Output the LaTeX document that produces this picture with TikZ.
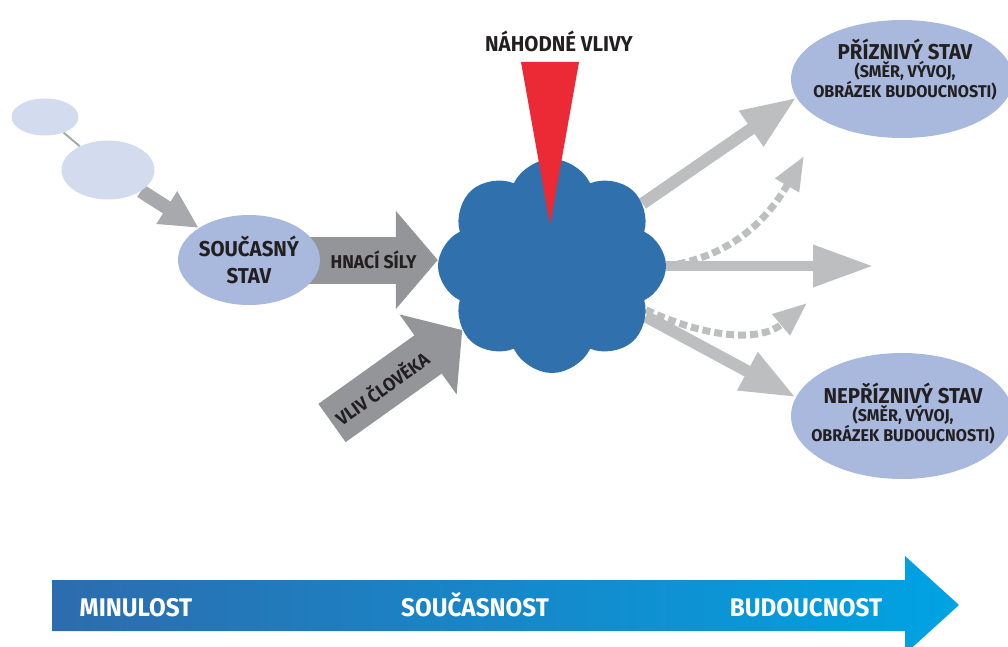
\documentclass[tikz,border=0pt]{standalone}
\usepackage{fontspec}
\setmainfont[FakeStretch=0.95]{Fira Sans}
\usetikzlibrary{shapes.geometric,shapes.symbols,arrows.meta,backgrounds}
\definecolor{pastblue}{HTML}{D3DCEE}
\definecolor{stateblue}{HTML}{A8B9DD}
\definecolor{cloudblue}{HTML}{2F70AD}
\definecolor{drivegray}{HTML}{939598}
\definecolor{linkgray}{HTML}{A7A9AC}
\definecolor{pathgray}{HTML}{BCBEC0}
\definecolor{chancered}{HTML}{EC2A35}
\definecolor{inkdark}{HTML}{231F20}
\definecolor{timeleft}{HTML}{2D6CAE}
\definecolor{timeright}{HTML}{00A3E3}
\newcommand{\bigtext}{\fontsize{21.5}{27}\selectfont}
\newcommand{\subtext}{\fontsize{17}{22}\selectfont}
\newcommand{\forcetext}{\fontsize{18.5}{20}\selectfont}
\tikzset{
  paststate/.style={ellipse,fill=pastblue,inner sep=0pt},
  state/.style={ellipse,fill=stateblue,inner sep=0pt,align=center,text=inkdark},
  statetext/.style={font=\bfseries,text=inkdark,align=center},
  outcome/.style={draw=pathgray,line width=12pt,-{Triangle[length=55pt,width=40pt]}},
  maybe/.style={draw=pathgray,line width=7pt,dash pattern=on 8pt off 4pt,-{Triangle[length=34pt,width=26pt]}},
  force/.style={draw=drivegray,line width=47pt,-{Triangle[length=42pt,width=96pt]}}
}

\begin{document}
\begin{tikzpicture}[x=1pt,y=-1pt,font=\bfseries]
  \useasboundingbox (0,0) rectangle (1008,647);

  \node[paststate,minimum width=67pt,minimum height=37pt] (p1) at (45,117) {};
  \node[paststate,minimum width=93pt,minimum height=59pt] (p2) at (108,170) {};
  \node[state,minimum width=142pt,minimum height=90pt,font=\bfseries\bigtext] (now) at (249,260) {SOUČASNÝ\\STAV};
  \node[cloud,cloud puffs=8,cloud puff arc=130,aspect=1.05,fill=cloudblue,
        minimum width=228pt,minimum height=214pt,inner sep=0pt] (cloud) at (552,266) {};
  \node[state,minimum width=222pt,minimum height=118pt] (good) at (902,79) {};
  \node[statetext] (goodtext) at (905,70)
    {\bigtext PŘÍZNIVÝ STAV\\\subtext (SMĚR, VÝVOJ,\\\subtext OBRÁZEK BUDOUCNOSTI)};
  \node[state,minimum width=222pt,minimum height=126pt] (bad) at (902,416) {};
  \node[statetext] (badtext) at (903,414)
    {\bigtext NEPŘÍZNIVÝ STAV\\\subtext (SMĚR, VÝVOJ,\\\subtext OBRÁZEK BUDOUCNOSTI)};
  \node[text=inkdark,font=\bfseries\bigtext,anchor=base] (chance) at (559,52) {NÁHODNÉ VLIVY};
  \fill[chancered] (521,62) -- (579,62) -- (550,225) -- cycle;

  \coordinate (human) at (332,423);
  \coordinate (straight) at (873,266);
  \coordinate (rise) at (804,156);
  \coordinate (sink) at (807,303);

  \begin{scope}[on background layer]
    \draw[linkgray,line width=2pt] (p1) -- (p2);
    \draw[draw=linkgray,line width=14pt,-{Triangle[length=38pt,width=36pt]}] (p2) -- (now);
    \draw[force] (now.center) -- node[pos=0.66,text=inkdark,font=\bfseries\forcetext]{HNACÍ SÍLY} (now.center -| cloud.west);
    \draw[force] (human) -- node[pos=0.38,sloped,text=inkdark,font=\bfseries\forcetext]{VLIV ČLOVĚKA} (cloud);
    \draw[outcome] (cloud) -- (good.190);
    \draw[outcome,line width=10pt,-{Triangle[length=60pt,width=40pt]}] (cloud) -- (straight);
    \draw[outcome] (cloud) -- (bad.170);
    \draw[maybe] (cloud.east) to[out=8,in=-120] (rise);
    \draw[maybe] (cloud.-25) to[out=-25,in=-140] (sink);
  \end{scope}

  \shade[left color=timeleft,right color=timeright]
    (52,580) -- (905,580) -- (905,556) -- (959,605) -- (905,654) -- (905,631) -- (52,631) -- cycle;
  \foreach \name/\x/\word in {past/136/MINULOST,present/475/SOUČASNOST,future/806/BUDOUCNOST}
    \node[text=white,font=\bfseries\fontsize{25.5}{28}\selectfont,anchor=base] (\name) at (\x,616) {\word};

\end{tikzpicture}
\end{document}
